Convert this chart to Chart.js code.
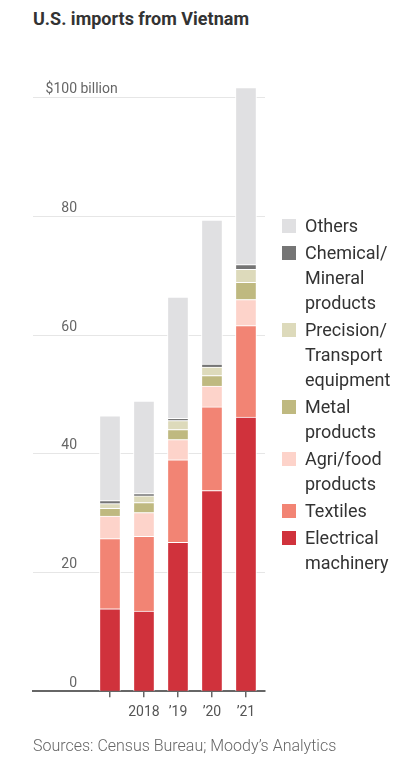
<!DOCTYPE html>
<html>
<head>
<meta charset="utf-8">
<script src="https://cdn.jsdelivr.net/npm/chart.js@4"></script>
<style>
  html, body { margin: 0; padding: 0; background: #fff; }
  body { width: 395px; height: 763px; position: relative; overflow: hidden; font-family: Roboto, "Liberation Sans", sans-serif; }
  #title { position: absolute; left: 33px; top: 8px; font-size: 18px; font-weight: 700; color: #333; }
  #source { position: absolute; left: 33px; top: 736px; font-size: 16px; font-weight: 300; color: #666; }
  #wrap { position: absolute; left: 0; top: 0; width: 395px; height: 763px; }
  #legend { position: absolute; left: 282px; top: 213px; font-size: 18px; color: #333; line-height: 25px; }
  .item { position: relative; padding-left: 23px; margin-bottom: 2px; }
  .sw { position: absolute; left: 0; top: 6px; width: 14px; height: 14px; }
</style>
</head>
<body>
<div id="title">U.S. imports from Vietnam</div>
<div id="wrap"><canvas id="chart"></canvas></div>
<div id="legend"></div>
<div id="source">Sources: Census Bureau; Moody’s Analytics</div>
<script>
// данные, $ млрд
const years = [2017, 2018, 2019, 2020, 2021];
const tickLabels = ['', '2018', '’19', '’20', '’21'];

const electrical = [13.9, 13.5, 25.1, 33.8, 46.2];
const textiles   = [11.8, 12.6, 13.9, 14.1, 15.4];
const agriFood   = [3.8, 4.0, 3.4, 3.5, 4.4];
const metal      = [1.3, 1.7, 1.7, 1.8, 2.9];
const precision  = [0.8, 1.1, 1.5, 1.4, 2.2];
const chemical   = [0.5, 0.4, 0.4, 0.5, 0.8];
const others     = [14.3, 15.6, 20.4, 24.3, 29.8];

const yTicks = [0, 20, 40, 60, 80, 100];

const series = [
    { label: 'Electrical machinery', data: electrical, color: '#d0323c' },
    { label: 'Textiles', data: textiles, color: '#f28474' },
    { label: 'Agri/food products', data: agriFood, color: '#fdd3ca' },
    { label: 'Metal products', data: metal, color: '#bfb980' },
    { label: 'Precision/ Transport equipment', data: precision, color: '#dddabb' },
    { label: 'Chemical/ Mineral products', data: chemical, color: '#757575' },
    { label: 'Others', data: others, color: '#e0e0e2' }
];

const legendLines = {
    'Electrical machinery': ['Electrical', 'machinery'],
    'Textiles': ['Textiles'],
    'Agri/food products': ['Agri/food', 'products'],
    'Metal products': ['Metal', 'products'],
    'Precision/ Transport equipment': ['Precision/', 'Transport', 'equipment'],
    'Chemical/ Mineral products': ['Chemical/', 'Mineral', 'products'],
    'Others': ['Others']
};

// легенда справа, в обратном порядке
const legendEl = document.getElementById('legend');
series.slice().reverse().forEach(s => {
    const div = document.createElement('div');
    div.className = 'item';
    div.innerHTML = `<span class="sw" style="background:${s.color}"></span>` + legendLines[s.label].join('<br>');
    legendEl.appendChild(div);
});

// подписи оси Y: число выровнено вправо, "$" и " billion" висят снаружи
const yLabels = {
    id: 'yLabels',
    afterDraw(chart) {
        const { ctx, scales: { y } } = chart;
        ctx.save();
        ctx.font = '14px Roboto, sans-serif';
        ctx.fillStyle = '#666';
        ctx.textBaseline = 'middle';
        yTicks.forEach(v => {
            const py = y.getPixelForValue(v) - 8;
            ctx.textAlign = 'right';
            ctx.fillText(String(v), 77, py);
            if (v === 100) {
                ctx.fillText('$', 77 - ctx.measureText('100').width, py);
                ctx.textAlign = 'left';
                ctx.fillText(' billion', 77, py);
            }
        });
        ctx.restore();
    }
};

new Chart(document.getElementById('chart'), {
    type: 'bar',
    data: {
        datasets: series.map(s => ({
            label: s.label,
            data: years.map((yr, i) => ({ x: yr, y: s.data[i] })),
            backgroundColor: s.color,
            borderColor: '#fff',
            borderWidth: 1,
            barThickness: 21
        }))
    },
    options: {
        responsive: true,
        maintainAspectRatio: false,
        animation: false,
        layout: { padding: { left: 33, right: 130, top: 74, bottom: 35 } },
        plugins: { legend: { display: false }, tooltip: { enabled: false } },
        scales: {
            x: {
                type: 'linear',
                stacked: true,
                offset: false,
                min: 2014.735,
                max: 2021.56,
                afterBuildTicks: s => { s.ticks = years.map(v => ({ value: v })); },
                ticks: {
                    color: '#555',
                    font: { family: 'Roboto', size: 14 },
                    padding: 7,
                    maxRotation: 0,
                    callback: v => tickLabels[years.indexOf(v)]
                },
                grid: { offset: false, drawOnChartArea: false, drawTicks: true, tickLength: 6, color: '#666', lineWidth: 1.5 },
                border: { display: true, color: '#666', width: 2 }
            },
            y: {
                stacked: true,
                min: 0,
                max: 104,
                afterBuildTicks: s => { s.ticks = yTicks.map(v => ({ value: v })); },
                ticks: { display: false },
                grid: { drawTicks: false, color: '#e6e6e6', lineWidth: 1 },
                border: { display: false }
            }
        }
    },
    plugins: [yLabels]
});
</script>
</body>
</html>
